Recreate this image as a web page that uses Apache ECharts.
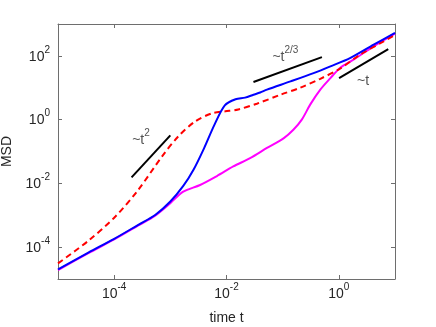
<!DOCTYPE html>
<html>
<head>
  <meta charset="utf-8">
  <title>MSD vs time</title>
  <script src="https://cdn.jsdelivr.net/npm/echarts@6/dist/echarts.min.js"></script>
  <style>
    html, body { margin: 0; padding: 0; background: #fff; }
    #main { width: 436px; height: 327px; }
  </style>
</head>
<body>
<div id="main"></div>
<script>
  // values (log-log plot)
  const blueT = [1e-5, 3.47e-5, 1e-4, 2.69e-4, 5.37e-4, 1e-3, 1.70e-3, 2.57e-3, 3.98e-3, 6.03e-3,
    9.33e-3, 1.45e-2, 2.14e-2, 3.02e-2, 3.98e-2, 5.25e-2, 0.138, 0.355, 0.708, 1.58, 4.17, 10];
  const blueMsd = [2.0e-5, 6.76e-5, 1.82e-4, 5.01e-4, 1.02e-3, 2.69e-3, 8.32e-3, 2.63e-2, 0.126, 0.661,
    2.82, 4.37, 4.90, 6.03, 7.08, 8.71, 15.8, 28.8, 46.8, 85.1, 224, 525];

  const redT = [1e-5, 3.47e-5, 1.05e-4, 2.69e-4, 7.08e-4, 1.38e-3, 2.75e-3, 5.50e-3, 9.55e-3, 1.62e-2,
    3.47e-2, 9.12e-2, 0.204, 0.468, 1.05, 2.40, 5.50, 10];
  const redMsd = [3.09e-5, 1.58e-4, 9.12e-4, 6.31e-3, 6.92e-2, 0.295, 0.871, 1.58, 1.82, 2.09,
    3.16, 6.03, 10.0, 19.1, 39.8, 110, 251, 457];

  const magentaT = [1e-5, 3.47e-5, 1e-4, 2.69e-4, 5.37e-4, 1e-3, 1.70e-3, 3.39e-3, 6.76e-3, 1.32e-2,
    2.63e-2, 5.25e-2, 0.105, 0.155, 0.219, 0.309, 0.468, 0.708, 1.05, 1.82, 4.17, 10];
  const magentaMsd = [1.91e-5, 6.46e-5, 1.74e-4, 4.79e-4, 9.77e-4, 2.40e-3, 5.50e-3, 8.91e-3, 1.70e-2, 3.39e-2,
    6.17e-2, 0.129, 0.263, 0.479, 1.0, 2.95, 8.71, 20.0, 41.7, 75.9, 200, 501];

  // guide lines for the scaling laws
  const guideT2 = [[2.04e-4, 1.55e-2], [1e-3, 0.32]];
  const guideT23 = [[3.02e-2, 15.1], [0.50, 91.2]];
  const guideT1 = [[1.01, 20.0], [7.59, 162]];

  const guideLabels = [
    { pos: [3.0e-4, 0.25], text: '{b|~t}{s|2}' },
    { pos: [0.112, 100], text: '{b|~t}{s|2/3}' },
    { pos: [2.7, 17.8], text: '{b|~t}' }
  ];

  const xTicks = [1e-4, 1e-2, 1];
  const yTicks = [1e-4, 1e-2, 1, 100];

  const axisGray = '#6e6e6e';
  const textColor = '#262626';
  const font = 'Liberation Sans';

  const supRich = {
    b: { fontSize: 14, fontFamily: font, color: textColor, lineHeight: 16, verticalAlign: 'bottom' },
    s: { fontSize: 10, fontFamily: font, color: textColor, lineHeight: 10, verticalAlign: 'bottom', padding: [0, 0, 9, 0] }
  };

  function powLabel(value) {
    const e = Math.round(Math.log10(value));
    return '{b|10}{s|' + e + '}';
  }

  function pairs(ts, ys) {
    return ts.map(function (t, i) { return [t, ys[i]]; });
  }

  function mainAxisX(pos, withLabels) {
    return {
      type: 'log', logBase: 10, min: 1e-5, max: 10, position: pos,
      axisLine: { show: true, lineStyle: { color: axisGray, width: 1 } },
      axisTick: { show: true, inside: true, length: 4, customValues: xTicks, lineStyle: { color: axisGray } },
      axisLabel: withLabels ? { show: true, customValues: xTicks, formatter: powLabel, rich: supRich, margin: 6 } : { show: false },
      minorTick: { show: false },
      splitLine: { show: false },
      name: withLabels ? 'time t' : '',
      nameLocation: 'middle',
      nameGap: 32,
      nameTextStyle: { fontSize: 14, fontFamily: font, color: textColor }
    };
  }

  function mainAxisY(pos, withLabels) {
    return {
      type: 'log', logBase: 10, min: 1e-5, max: 1000, position: pos,
      axisLine: { show: true, lineStyle: { color: axisGray, width: 1 } },
      axisTick: { show: true, inside: true, length: 4, customValues: yTicks, lineStyle: { color: axisGray } },
      axisLabel: withLabels ? { show: true, customValues: yTicks, formatter: powLabel, rich: supRich, margin: 8 } : { show: false },
      minorTick: { show: false },
      splitLine: { show: false },
      name: withLabels ? 'MSD' : '',
      nameLocation: 'middle',
      nameGap: 40,
      nameTextStyle: { fontSize: 14, fontFamily: font, color: textColor }
    };
  }

  function guideSeries(data) {
    return {
      type: 'line', data: data, symbol: 'none', silent: true,
      lineStyle: { color: '#000', width: 2 }
    };
  }

  const chart = echarts.init(document.getElementById('main'));
  chart.setOption({
    animation: false,
    grid: { left: 58, right: 41, top: 24, bottom: 48, show: false, containLabel: false, outerBoundsMode: 'none' },
    xAxis: [mainAxisX('bottom', true), mainAxisX('top', false)],
    yAxis: [mainAxisY('left', true), mainAxisY('right', false)],
    series: [
      {
        type: 'line', data: pairs(magentaT, magentaMsd), symbol: 'none', smooth: 0.3,
        lineStyle: { color: '#ff00ff', width: 2 }
      },
      {
        type: 'line', data: pairs(redT, redMsd), symbol: 'none', smooth: 0.3,
        lineStyle: { color: '#ff0000', width: 2, type: [6, 4] }
      },
      {
        type: 'line', data: pairs(blueT, blueMsd), symbol: 'none', smooth: 0.3,
        lineStyle: { color: '#0000ff', width: 2 }
      },
      guideSeries(guideT2),
      guideSeries(guideT23),
      guideSeries(guideT1),
      {
        type: 'scatter', silent: true, symbolSize: 0,
        data: guideLabels.map(function (g) { return { value: g.pos, text: g.text }; }),
        label: {
          show: true, position: 'inside',
          formatter: function (p) { return p.data.text; },
          rich: supRich
        }
      }
    ]
  });
</script>
</body>
</html>
